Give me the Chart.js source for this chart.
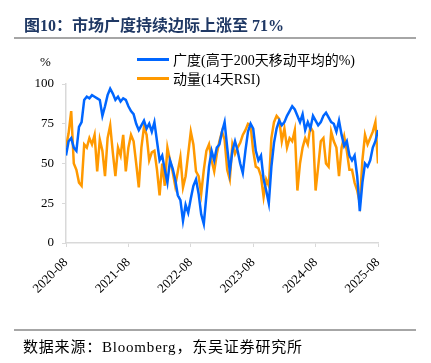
<!DOCTYPE html>
<html lang="zh-CN">
<head>
<meta charset="UTF-8">
<title>市场广度</title>
<script src="https://cdn.jsdelivr.net/npm/chart.js"></script>
<style>
  body { margin: 0; background: #fff; width: 431px; height: 363px; overflow: hidden; position: relative;
         font-family: "Liberation Serif", "Noto Sans CJK SC", serif; color: #000; }
  #c { position: absolute; left: 0; top: 0; }
  .title { position: absolute; left: 24px; top: 12px; font-size: 16px; font-weight: bold; color: #1f3864; white-space: nowrap; }
  .rule { position: absolute; left: 14px; width: 402px; height: 2px; background: #a6a6a6; }
  .unit { position: absolute; left: 40px; top: 54px; font-size: 13px; }
  .legend { position: absolute; left: 137px; font-size: 14px; white-space: nowrap; display: flex; align-items: center; }
  .legend span.sw { display: inline-block; width: 32px; height: 3px; margin-right: 4px; }
  .source { position: absolute; left: 23px; top: 335px; font-size: 15px; letter-spacing: 0.8px; white-space: nowrap; }
</style>
</head>
<body>
<canvas id="c" width="431" height="363"></canvas>
<div class="title">图10：市场广度持续边际上涨至 71%</div>
<div class="rule" style="top:37px"></div>
<div class="unit">%</div>
<div id="legend"></div>
<div class="rule" style="top:329px"></div>
<div class="source">数据来源：Bloomberg，东吴证券研究所</div>
<script>
// months since 2020-08, one reading every half month
const step = 0.5;
const tickLabels = ['2020-08', '2021-08', '2022-08', '2023-08', '2024-08', '2025-08'];
const seriesNames = ['广度(高于200天移动平均的%)', '动量(14天RSI)'];
const seriesColors = ['#0066ff', '#ff9900'];

const breadth = [
  55, 64, 66, 60, 58, 73, 76, 90, 92, 91,
  93, 92, 91, 90, 80, 86, 93, 97, 94, 90,
  92, 89, 91, 90, 86, 83, 81, 75, 71, 74,
  77, 72, 75, 70, 76, 64, 52, 55, 46, 38,
  52, 47, 40, 30, 27, 14, 24, 19, 28, 36,
  40, 31, 18, 12, 30, 48, 58, 52, 60, 62,
  70, 76, 60, 45, 58, 64, 58, 50, 44, 58,
  70, 75, 72, 58, 52, 55, 40, 33, 25, 48,
  63, 72, 77, 74, 76, 80, 83, 86, 84, 80,
  76, 81, 71, 76, 72, 80, 77, 74, 76, 80,
  82, 79, 76, 75, 70, 77, 68, 61, 64, 55,
  52, 55, 42, 20, 38, 50, 48, 52, 60, 64,
  71
];

const rsi = [
  60, 69, 83, 50, 46, 38, 36, 62, 60, 66,
  62, 68, 45, 65, 58, 42, 66, 74, 57, 42,
  60, 55, 68, 45, 60, 68, 64, 50, 35, 60,
  73, 68, 52, 57, 58, 46, 30, 50, 36, 60,
  52, 45, 36, 45, 54, 35, 42, 56, 70, 62,
  45, 42, 31, 46, 58, 62, 52, 45, 56, 64,
  70, 65, 46, 40, 62, 56, 60, 63, 68, 71,
  75, 74, 58, 48, 47, 42, 29, 40, 36, 66,
  76, 80, 78, 64, 72, 60, 66, 64, 71, 33,
  50, 60, 66, 62, 73, 70, 33, 48, 64, 66,
  50, 48, 70, 64, 60, 42, 60, 67, 58, 46,
  46, 38, 33, 25, 52, 68, 62, 66, 70, 76,
  50
];

function toPoints(arr) {
  return arr.map(function(v, i) { return { x: i * step, y: v }; });
}

// html legend
var lg = document.getElementById('legend');
seriesNames.forEach(function(name, i) {
  var d = document.createElement('div');
  d.className = 'legend';
  d.style.top = (49 + i * 19) + 'px';
  d.innerHTML = '<span class="sw" style="background:' + seriesColors[i] + '"></span>' + name;
  lg.appendChild(d);
});

Chart.defaults.font.family = "'Liberation Serif', 'Noto Sans CJK SC', serif";
Chart.defaults.color = '#000';

new Chart(document.getElementById('c'), {
  type: 'line',
  data: {
    datasets: [
      { label: seriesNames[0], data: toPoints(breadth), borderColor: seriesColors[0], borderWidth: 2.5, pointRadius: 0, tension: 0 },
      { label: seriesNames[1], data: toPoints(rsi), borderColor: seriesColors[1], borderWidth: 2.5, pointRadius: 0, tension: 0 }
    ]
  },
  options: {
    responsive: false,
    animation: false,
    layout: { padding: { left: 0, right: 53, top: 84, bottom: 70 } },
    plugins: { legend: { display: false }, tooltip: { enabled: false } },
    scales: {
      x: {
        type: 'linear',
        min: 0,
        max: 60,
        afterFit: function(s) { s.height = 50; },
        afterBuildTicks: function(s) { s.ticks = tickLabels.map(function(t, i) { return { value: i * 12 }; }); },
        ticks: {
          autoSkip: false,
          maxRotation: 45,
          minRotation: 45,
          padding: 8,
          font: { size: 13 },
          callback: function(v) { return tickLabels[Math.round(v / 12)]; }
        },
        grid: { display: true, drawOnChartArea: false, tickLength: 4, color: '#d9d9d9' },
        border: { color: '#d9d9d9', width: 1.5 }
      },
      y: {
        min: 0,
        max: 100,
        afterFit: function(s) { s.width = 66; },
        ticks: { stepSize: 25, padding: 8, font: { size: 13 } },
        grid: { display: true, drawOnChartArea: false, tickLength: 4, color: '#d9d9d9' },
        border: { color: '#d9d9d9', width: 1.5 }
      }
    }
  }
});
</script>
</body>
</html>
